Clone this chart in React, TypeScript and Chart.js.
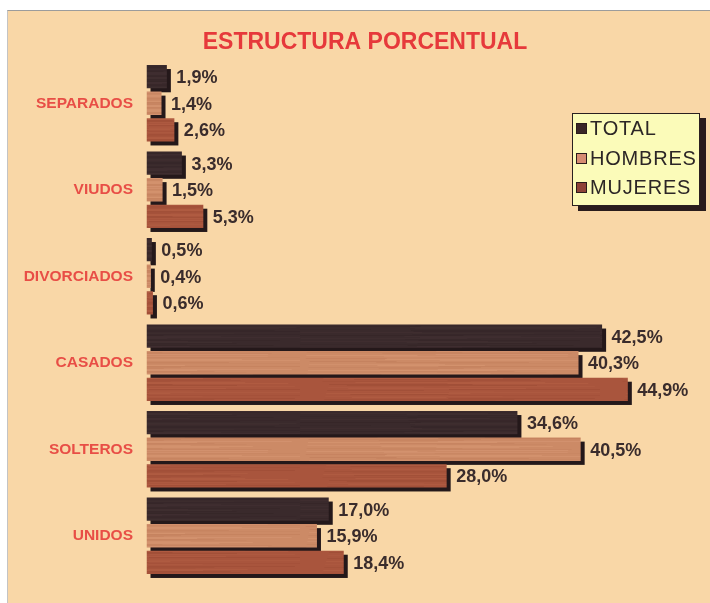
import React, { useEffect, useRef } from "react";
import { Chart, registerables } from "chart.js";

Chart.register(...registerables);

const categories = ["SEPARADOS", "VIUDOS", "DIVORCIADOS", "CASADOS", "SOLTEROS", "UNIDOS"];
const seriesNames = ["TOTAL", "HOMBRES", "MUJERES"];
const totalValues = [1.9, 3.3, 0.5, 42.5, 34.6, 17.0];
const hombresValues = [1.4, 1.5, 0.4, 40.3, 40.5, 15.9];
const mujeresValues = [2.6, 5.3, 0.6, 44.9, 28.0, 18.4];
const titleText = "ESTRUCTURA PORCENTUAL";

const FONT = "'Liberation Sans', Arial, sans-serif";
const baseColors = ["#3a2a2c", "#cc8a66", "#a9553d"];
const lightColors = ["#4a3638", "#e0a27e", "#bd684b"];
const darkColors = ["#2e2022", "#b87452", "#93452f"];
const legendColors = ["#3a2628", "#d68c72", "#8e4238"];
const SHADOW = "#24181a";

function makeWood(ctx: CanvasRenderingContext2D, base: string, light: string, dark: string, k: number) {
  const c = document.createElement("canvas");
  c.width = 300;
  c.height = 24;
  const g = c.getContext("2d")!;
  g.fillStyle = base;
  g.fillRect(0, 0, 300, 24);
  for (let i = 0; i < 24; i++) {
    const s = Math.sin(i * 1.3 + k);
    g.globalAlpha = 0.12 + 0.22 * Math.abs(Math.sin(i * 0.7 + k * 2));
    g.fillStyle = s > 0 ? light : dark;
    const x0 = (Math.sin(i * 2.1 + k) * 0.5 + 0.5) * 150;
    g.fillRect(x0, i, 70 + 120 * Math.abs(Math.sin(i * 0.9 + k)), 1);
  }
  g.globalAlpha = 1;
  return ctx.createPattern(c, "repeat") as CanvasPattern;
}

const fmt = (v: number) => v.toFixed(1).replace(".", ",") + "%";

const shadowPlugin = {
  id: "barShadow",
  beforeDatasetsDraw(chart: any) {
    const ctx = chart.ctx;
    ctx.save();
    ctx.fillStyle = SHADOW;
    chart.data.datasets.forEach((_: any, di: number) => {
      const meta = chart.getDatasetMeta(di);
      meta.data.forEach((el: any) => {
        const { x, y, base, height } = el.getProps(["x", "y", "base", "height"], true);
        ctx.fillRect(base + 4, y - height / 2 + 4, x - base, height);
      });
    });
    ctx.restore();
  },
};

const valueLabelPlugin = {
  id: "valueLabels",
  afterDatasetsDraw(chart: any) {
    const ctx = chart.ctx;
    ctx.save();
    ctx.font = `bold 18px ${FONT}`;
    ctx.fillStyle = "#3a2c2c";
    ctx.textAlign = "left";
    ctx.textBaseline = "middle";
    chart.data.datasets.forEach((ds: any, di: number) => {
      const meta = chart.getDatasetMeta(di);
      meta.data.forEach((el: any, i: number) => {
        const { x, y } = el.getProps(["x", "y"], true);
        ctx.fillText(fmt(ds.data[i]), x + 9.5, y + 1.5);
      });
    });
    ctx.restore();
  },
};

const titlePlugin = {
  id: "offsetTitle",
  afterDraw(chart: any) {
    const ctx = chart.ctx;
    ctx.save();
    ctx.font = `bold 23px ${FONT}`;
    ctx.fillStyle = "#e6393b";
    ctx.textAlign = "center";
    ctx.textBaseline = "middle";
    ctx.fillText(titleText, 365, 43);
    ctx.restore();
  },
};

export default function App() {
  const canvasRef = useRef<HTMLCanvasElement>(null);

  useEffect(() => {
    const canvas = canvasRef.current!;
    const ctx = canvas.getContext("2d")!;
    const patterns = [0, 1, 2].map((i) =>
      makeWood(ctx, baseColors[i], lightColors[i], darkColors[i], i * 1.7 + 0.4)
    );
    const values = [totalValues, hombresValues, mujeresValues];
    const chart = new Chart(canvas, {
      type: "bar",
      data: {
        labels: categories,
        datasets: seriesNames.map((name, i) => ({
          label: name,
          data: values[i],
          backgroundColor: patterns[i],
          borderWidth: 0,
          categoryPercentage: 0.922,
          barPercentage: 0.875,
        })),
      },
      options: {
        indexAxis: "y",
        animation: false,
        responsive: false,
        maintainAspectRatio: false,
        layout: { padding: { left: 8, right: 27.5, top: 60, bottom: 24 } },
        plugins: {
          legend: { display: false },
          tooltip: { enabled: false },
          title: { display: false },
        },
        scales: {
          x: { display: false, min: 0, max: 50 },
          y: {
            afterFit(scale: any) {
              scale.width = 138.5;
            },
            grid: { display: false, drawTicks: false },
            border: { display: false },
            ticks: {
              color: "#e84e46",
              padding: 13.5,
              font: { family: FONT, size: 15.5, weight: "bold" },
            },
          },
        },
      },
      plugins: [shadowPlugin, valueLabelPlugin, titlePlugin],
    } as any);
    return () => chart.destroy();
  }, []);

  return (
    <div style={{ position: "absolute", left: 0, top: 0, width: 710, height: 603, overflow: "hidden", background: "#ffffff" }}>
      <div
        style={{
          position: "absolute",
          left: 7,
          top: 10,
          width: 703,
          height: 593,
          boxSizing: "border-box",
          background: "#f9d7a7",
          borderTop: "1px solid #9c9c9c",
          borderLeft: "1px solid #c4c4c4",
        }}
      />
      <canvas ref={canvasRef} width={710} height={603} style={{ position: "absolute", left: 0, top: 0, width: 710, height: 603 }} />
      <div
        style={{
          position: "absolute",
          left: 572,
          top: 113,
          width: 128,
          height: 93,
          boxSizing: "border-box",
          background: "#fbfbb9",
          border: "1px solid #2a2020",
          boxShadow: "6px 5px 0 #2a1c1c",
          fontFamily: FONT,
        }}
      >
        {seriesNames.map((name, i) => (
          <div key={name} style={{ display: "flex", alignItems: "center", height: 29.5 }}>
            <span
              style={{
                display: "inline-block",
                width: 9,
                height: 9,
                marginLeft: 3,
                marginRight: 3,
                background: legendColors[i],
                border: "1px solid #2a1c1c",
              }}
            />
            <span style={{ fontSize: 20, letterSpacing: 0.8, color: "#2c2626", lineHeight: "29.5px" }}>{name}</span>
          </div>
        ))}
      </div>
    </div>
  );
}
